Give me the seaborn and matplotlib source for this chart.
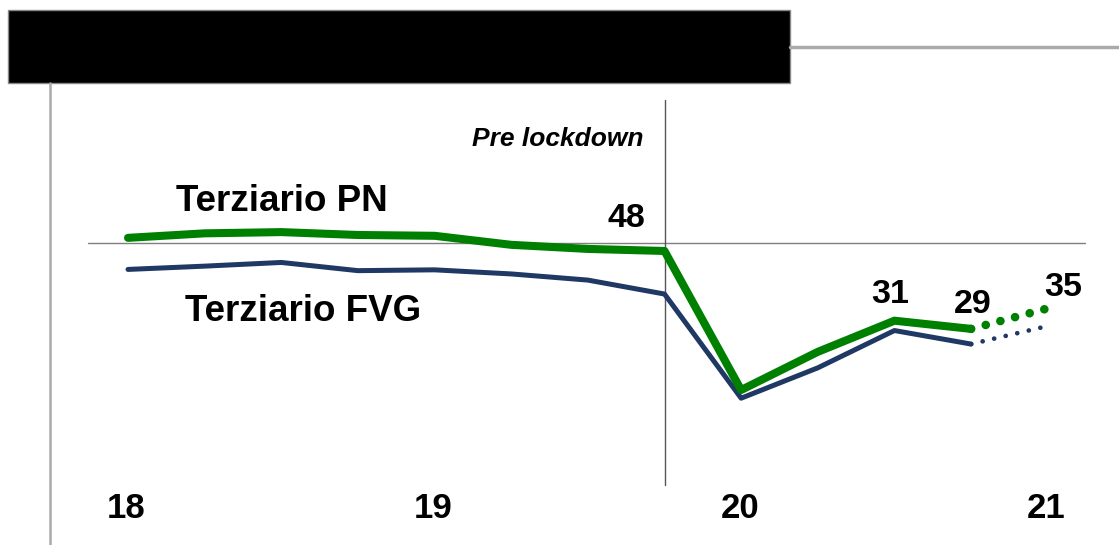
import matplotlib
matplotlib.use("Agg")
import matplotlib.pyplot as plt
import matplotlib.patches as mpatches
import seaborn as sns
import pandas as pd

sns.set_style("white")
plt.rcParams['font.family'] = ['Liberation Sans', 'DejaVu Sans']
plt.rcParams['text.color'] = 'black'

# quarterly points, 18Q1 .. 21Q1 (last point = forecast)
quarters = list(range(13))
year_ticks = [0, 4, 8, 12]
year_labels = ['18', '19', '20', '21']
pn_values = [51.2, 52.3, 52.6, 51.9, 51.7, 49.5, 48.5, 48.0, 14.1, 23.4, 31.0, 29.0, 34.0]
fvg_values = [43.5, 44.3, 45.2, 43.2, 43.4, 42.4, 40.9, 37.5, 12.1, 19.5, 28.6, 25.3, 29.7]
point_labels = {7: '48', 10: '31', 11: '29', 12: '35'}

green = '#008000'
navy = '#1f3864'

df = pd.DataFrame({'q': quarters, 'pn': pn_values, 'fvg': fvg_values})
solid = df[df.q <= 11]
fcst = df[df.q >= 11]

fig = plt.figure(figsize=(11.19, 5.45), dpi=100)
ax = fig.add_axes([0, 0, 1, 1])
ax.set_xlim(-1.67, 12.93)
ax.set_ylim(-23.7, 109.2)
ax.axis('off')

# reference lines
ax.axhline(50, xmin=88 / 1119, xmax=1085 / 1119, color='#7f7f7f', lw=1)
ax.axvline(7, ymin=60 / 545, ymax=445 / 545, color='#555555', lw=1)

sns.lineplot(data=solid, x='q', y='fvg', ax=ax, color=navy, lw=3.6)
sns.lineplot(data=solid, x='q', y='pn', ax=ax, color=green, lw=5.8)
ax.plot(fcst.q, fcst.fvg, color=navy, lw=3.4, dashes=(0.01, 2.5), dash_capstyle='round')
ax.plot(fcst.q, fcst.pn, color=green, lw=6.2, dashes=(0.01, 1.75), dash_capstyle='round')
ax.set_xlabel('')
ax.set_ylabel('')

# value labels (offsets from the point, baseline anchored)
offsets = {7: (-0.5, 5.85), 10: (-0.06, 4.3), 11: (0.02, 3.9), 12: (0.2, 3.0)}
for i, txt in point_labels.items():
    dx, dy = offsets[i]
    ax.text(quarters[i] + dx, pn_values[i] + dy, txt, ha='center', va='baseline',
            fontsize=24.5, fontweight='bold')

ax.text(2.01, 57.8, 'Terziario PN', ha='center', va='baseline', fontsize=26.5, fontweight='bold')
ax.text(2.28, 30.9, 'Terziario FVG', ha='center', va='baseline', fontsize=26.5, fontweight='bold')
ax.text(6.73, 73.6, 'Pre lockdown', ha='right', va='baseline', fontsize=19,
        fontweight='bold', style='italic')

for t, lab in zip(year_ticks, year_labels):
    ax.text(t - 0.02, -17.1, lab, ha='center', va='baseline', fontsize=25, fontweight='bold')

# frame decorations
fig.patches.append(mpatches.Rectangle((8 / 1119, 1 - 83 / 545), 782 / 1119, 73 / 545,
                                      transform=fig.transFigure, facecolor='black',
                                      edgecolor='#888888', lw=1))
fig.lines.append(plt.Line2D([790 / 1119, 1], [1 - 47 / 545] * 2, transform=fig.transFigure,
                            color='#aaaaaa', lw=2.5))
fig.lines.append(plt.Line2D([50 / 1119] * 2, [0, 1 - 83 / 545], transform=fig.transFigure,
                            color='#aaaaaa', lw=1.8))

fig.savefig('out.png', dpi=100)
